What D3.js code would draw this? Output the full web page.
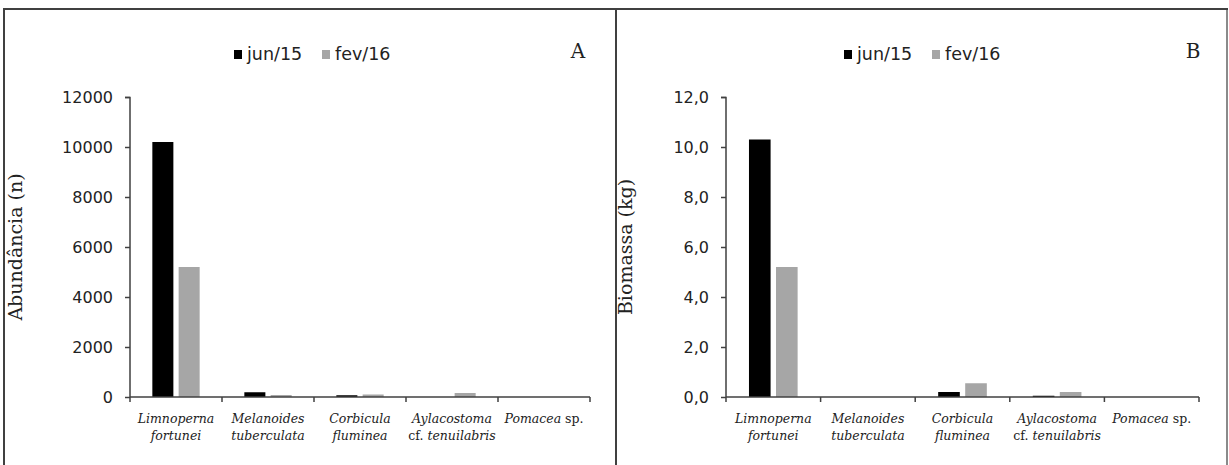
<!DOCTYPE html>
<html>
<head>
<meta charset="utf-8">
<script src="https://cdn.jsdelivr.net/npm/d3@7/dist/d3.min.js"></script>
<style>
  body { margin: 0; background: #fff; }
  svg { display: block; }
</style>
</head>
<body>
<div id="chart"></div>
<script>
// categories (species), one or two label lines each
var categories = ["Limnoperna fortunei", "Melanoides tuberculata", "Corbicula fluminea",
                  "Aylacostoma cf. tenuilabris", "Pomacea sp."];
var category_lines = [["Limnoperna", "fortunei"], ["Melanoides", "tuberculata"],
                      ["Corbicula", "fluminea"], ["Aylacostoma", "cf. tenuilabris"], ["Pomacea sp."]];
var series = ["jun/15", "fev/16"];

// panel A - abundance (n)
var abund_jun15 = [10200, 190, 70, 0, 0];
var abund_fev16 = [5200, 80, 100, 160, 0];
var abund_ticks = [0, 2000, 4000, 6000, 8000, 10000, 12000];

// panel B - biomass (kg)
var biom_jun15 = [10.3, 0, 0.2, 0.05, 0];
var biom_fev16 = [5.2, 0, 0.55, 0.2, 0];
var biom_ticks = [0, 2, 4, 6, 8, 10, 12];

var width  = 1229;
var height = 465;
var colors = {"jun/15": "#000000", "fev/16": "#a6a6a6"};
var axis_color = "#404040";
var serif = "'DejaVu Serif', Georgia, serif";
var sans  = "'DejaVu Sans', Verdana, sans-serif";

var svg = d3.select("#chart").append("svg")
    .attr("width", width)
    .attr("height", height);

// outer frames
svg.append("rect")
    .attr("x", 4).attr("y", 9).attr("width", 612).attr("height", 470)
    .attr("fill", "none").attr("stroke", "#404040").attr("stroke-width", 2);
svg.append("rect")
    .attr("x", 616).attr("y", 9).attr("width", 611).attr("height", 470)
    .attr("fill", "none").attr("stroke", "#404040").attr("stroke-width", 2);
svg.append("line")
    .attr("x1", 1227).attr("x2", 1227).attr("y1", 10).attr("y2", 465)
    .attr("stroke", "#8a8a8a").attr("stroke-width", 2);

function draw_panel(cfg) {
    var data = categories.map(function(c, i) {
        return {cat: c, values: [cfg.v1[i], cfg.v2[i]]};
    });

    var x0 = d3.scaleBand()
        .domain(categories)
        .range([cfg.left, cfg.right])
        .padding(0);

    var x1 = d3.scaleBand()
        .domain(series)
        .range([0, x0.bandwidth()])
        .paddingInner(0.2)
        .paddingOuter(0.85);

    var y = d3.scaleLinear()
        .domain([0, cfg.ticks[cfg.ticks.length - 1]])
        .range([397, 97]);

    // y axis
    var y_axis = d3.axisLeft(y)
        .tickValues(cfg.ticks)
        .tickSize(5)
        .tickPadding(12)
        .tickFormat(cfg.fmt);

    var gy = svg.append("g")
        .attr("transform", "translate(" + cfg.left + ",0)")
        .call(y_axis);
    gy.select(".domain").attr("stroke", axis_color).attr("stroke-width", 1.5)
        .attr("d", "M-5,97.5H0V397");
    gy.selectAll(".tick line").attr("stroke", axis_color).attr("stroke-width", 1.5);
    gy.selectAll(".tick text")
        .attr("fill", "#222")
        .style("font-family", sans)
        .style("font-size", "16px");

    // bars
    var groups = svg.append("g").selectAll("g")
        .data(data)
        .enter().append("g")
        .attr("transform", function(d) { return "translate(" + x0(d.cat) + ",0)"; });

    groups.selectAll("rect")
        .data(function(d) {
            return d.values.map(function(v, j) { return {key: series[j], value: v}; });
        })
        .enter().append("rect")
        .attr("x", function(d) { return x1(d.key); })
        .attr("width", x1.bandwidth())
        .attr("y", function(d) { return y(d.value); })
        .attr("height", function(d) { return y(0) - y(d.value); })
        .attr("fill", function(d) { return colors[d.key]; });

    // x axis: line with ticks at category borders
    var gx = svg.append("g");
    gx.append("line")
        .attr("x1", cfg.left).attr("x2", cfg.right)
        .attr("y1", y(0)).attr("y2", y(0))
        .attr("stroke", axis_color).attr("stroke-width", 1.5);
    var borders = categories.map(function(c) { return x0(c); }).concat([cfg.right]);
    gx.selectAll("line.tk")
        .data(borders)
        .enter().append("line")
        .attr("class", "tk")
        .attr("x1", function(d) { return d; }).attr("x2", function(d) { return d; })
        .attr("y1", y(0)).attr("y2", y(0) + 5)
        .attr("stroke", axis_color).attr("stroke-width", 1.5);

    // category labels
    var labels = gx.selectAll("text.cat")
        .data(category_lines)
        .enter().append("text")
        .attr("class", "cat")
        .attr("text-anchor", "middle")
        .attr("fill", "#222")
        .style("font-family", serif)
        .style("font-size", "12.5px")
        .attr("transform", function(d, i) {
            return "translate(" + (x0(categories[i]) + x0.bandwidth() / 2) + ",0)";
        });
    labels.each(function(lines) {
        var t = d3.select(this);
        lines.forEach(function(line, li) {
            var words = line.split(" ");
            words.forEach(function(w, wi) {
                var ts = t.append("tspan")
                    .text((wi > 0 ? " " : "") + w)
                    .style("font-style", (w === "cf." || w === "sp.") ? "normal" : "italic");
                if (wi === 0) ts.attr("x", 0).attr("y", 423 + li * 17);
            });
        });
    });

    // y title
    svg.append("text")
        .attr("transform", "translate(" + cfg.title_x + ",247) rotate(-90)")
        .attr("text-anchor", "middle")
        .attr("fill", "#222")
        .style("font-family", serif)
        .style("font-size", "19px")
        .text(cfg.title);

    // panel letter
    svg.append("text")
        .attr("x", cfg.letter_x).attr("y", 58)
        .attr("text-anchor", "middle")
        .attr("fill", "#222")
        .style("font-family", serif)
        .style("font-size", "20px")
        .text(cfg.letter);

    // legend
    var legend = svg.append("g")
        .attr("class", "legend")
        .attr("transform", "translate(" + cfg.legend_x + ",0)");
    var items = legend.selectAll("g")
        .data(series)
        .enter().append("g")
        .attr("transform", function(d, i) { return "translate(" + (i * 88) + ",0)"; });
    items.append("rect")
        .attr("x", 0).attr("y", 50)
        .attr("width", 8).attr("height", 9)
        .attr("fill", function(d) { return colors[d]; });
    items.append("text")
        .attr("x", 13).attr("y", 60)
        .attr("fill", "#222")
        .style("font-family", sans)
        .style("font-size", "17.5px")
        .text(function(d) { return d; });
}

draw_panel({
    left: 130, right: 590,
    v1: abund_jun15, v2: abund_fev16,
    ticks: abund_ticks,
    fmt: function(d) { return d3.format("d")(d); },
    title: "Abundância (n)", title_x: 22,
    letter: "A", letter_x: 578,
    legend_x: 234
});

draw_panel({
    left: 726, right: 1199,
    v1: biom_jun15, v2: biom_fev16,
    ticks: biom_ticks,
    fmt: function(d) { return d3.format(".1f")(d).replace(".", ","); },
    title: "Biomassa (kg)", title_x: 632,
    letter: "B", letter_x: 1193,
    legend_x: 844
});
</script>
</body>
</html>
